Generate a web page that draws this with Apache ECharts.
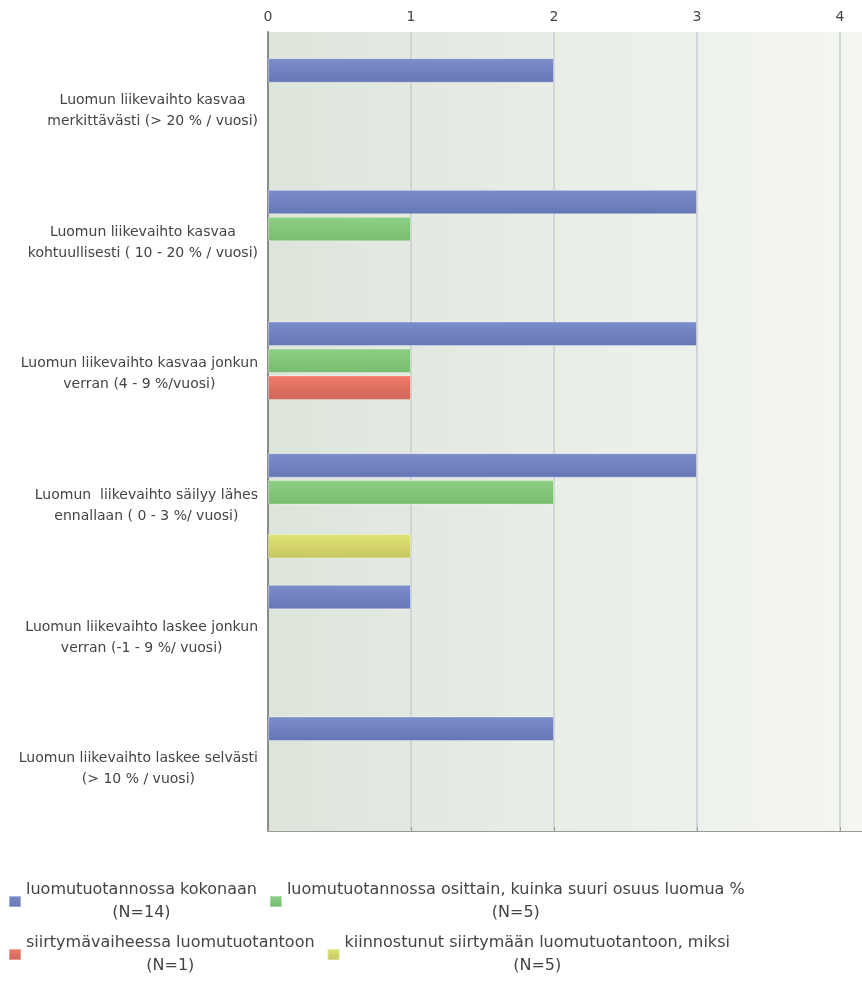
<!DOCTYPE html>
<html>
<head>
<meta charset="utf-8">
<script src="https://cdn.jsdelivr.net/npm/echarts@6/dist/echarts.min.js"></script>
<style>
html,body{margin:0;padding:0;background:#fff;}
#chart{width:862px;height:982px;}
</style>
</head>
<body>
<div id="chart"></div>
<script>
var categories = [
  "Luomun liikevaihto kasvaa\nmerkittävästi (> 20 % / vuosi)",
  "Luomun liikevaihto kasvaa\nkohtuullisesti ( 10 - 20 % / vuosi)",
  "Luomun liikevaihto kasvaa jonkun\nverran (4 - 9 %/vuosi)",
  "Luomun  liikevaihto säilyy lähes\nennallaan ( 0 - 3 %/ vuosi)",
  "Luomun liikevaihto laskee jonkun\nverran (-1 - 9 %/ vuosi)",
  "Luomun liikevaihto laskee selvästi\n(> 10 % / vuosi)"
];
var seriesNames = [
  "luomutuotannossa kokonaan\n(N=14)",
  "luomutuotannossa osittain, kuinka suuri osuus luomua %\n(N=5)",
  "siirtymävaiheessa luomutuotantoon\n(N=1)",
  "kiinnostunut siirtymään luomutuotantoon, miksi\n(N=5)"
];
var kokonaan = [2, 3, 3, 3, 1, 2];
var osittain = [null, 1, 1, 2, null, null];
var siirtyma = [null, null, 1, null, null, null];
var kiinnostunut = [null, null, null, 1, null, null];
var xTicks = [0, 1, 2, 3, 4];
// visible part of the value axis (the original picture is cut at the right edge)
var xVisibleMax = 4.154;

var seriesValues = [kokonaan, osittain, siirtyma, kiinnostunut];
var gradients = [
  ['#7c8dca', '#6576b6'],
  ['#8ecf86', '#77bc6f'],
  ['#f07b69', '#cf6659'],
  ['#dfe372', '#c6c662']
];

function grad(c) {
  return new echarts.graphic.LinearGradient(0, 0, 0, 1, [
    {offset: 0, color: c[0]}, {offset: 1, color: c[1]}
  ]);
}

var FONT = 'DejaVu Sans';
var chart = echarts.init(document.getElementById('chart'), null, {renderer: 'canvas'});

function richLines(s) {
  return s.split('\n').map(function (l) { return '{c|' + l + '}'; }).join('\n');
}

var series = seriesValues.map(function (vals, i) {
  return {
    type: 'bar',
    name: seriesNames[i],
    xAxisIndex: 1,
    yAxisIndex: 1,
    data: vals,
    barGap: '10%',
    barCategoryGap: '20%',
    itemStyle: {
      color: grad(gradients[i]),
      borderColor: 'rgba(255,255,255,0.35)',
      borderWidth: 1
    },
    emphasis: {disabled: true}
  };
});

var legendText = {
  rich: {
    c: {align: 'center', fontSize: 16, lineHeight: 23, fontFamily: FONT, color: '#444'}
  }
};

var option = {
  animation: false,
  backgroundColor: '#ffffff',
  grid: [
    {
      left: 268, right: 0, top: 32, height: 799,
      show: true,
      borderWidth: 0,
      backgroundColor: new echarts.graphic.LinearGradient(0, 0, 1, 0, [
        {offset: 0, color: '#dde5db'},
        {offset: 1, color: '#f4f6f2'}
      ])
    },
    {left: 268, right: 0, top: 45, height: 790}
  ],
  xAxis: [
    {
      gridIndex: 0,
      type: 'value',
      position: 'top',
      min: xTicks[0],
      max: xVisibleMax,
      interval: 1,
      axisLine: {show: true, lineStyle: {color: '#999', width: 1}},
      axisTick: {show: true, length: 4, lineStyle: {color: '#999'}},
      axisLabel: {color: '#444', fontSize: 14, fontFamily: FONT, margin: 8, showMaxLabel: false},
      splitLine: {show: true, showMaxLine: false, lineStyle: {color: '#c9cdd2', width: 1.5}}
    },
    {
      gridIndex: 1,
      type: 'value',
      min: xTicks[0],
      max: xVisibleMax,
      interval: 1,
      show: false
    }
  ],
  yAxis: [
    {
      gridIndex: 0,
      type: 'value',
      axisLine: {show: true, lineStyle: {color: '#8c8c8c', width: 2}},
      axisTick: {show: false},
      axisLabel: {show: false},
      splitLine: {show: false}
    },
    {
      gridIndex: 1,
      type: 'category',
      inverse: true,
      data: categories,
      axisLine: {show: false},
      axisTick: {show: false},
      splitLine: {show: false},
      axisLabel: {
        margin: 10,
        align: 'right',
        formatter: function (v) { return richLines(v); },
        rich: {
          c: {align: 'center', fontSize: 14, lineHeight: 21, fontFamily: FONT, color: '#444'}
        }
      }
    }
  ],
  legend: [
    {
      data: [seriesNames[0], seriesNames[1]],
      left: 8, top: 882, padding: 0,
      icon: 'rect', itemWidth: 12, itemHeight: 11, itemGap: 12,
      selectedMode: false,
      formatter: function (n) { return richLines(n); },
      textStyle: legendText
    },
    {
      data: [seriesNames[2], seriesNames[3]],
      left: 8, top: 935, padding: 0,
      icon: 'rect', itemWidth: 12, itemHeight: 11, itemGap: 12,
      selectedMode: false,
      formatter: function (n) { return richLines(n); },
      textStyle: legendText
    }
  ],
  series: series
};
chart.setOption(option);
</script>
</body>
</html>
